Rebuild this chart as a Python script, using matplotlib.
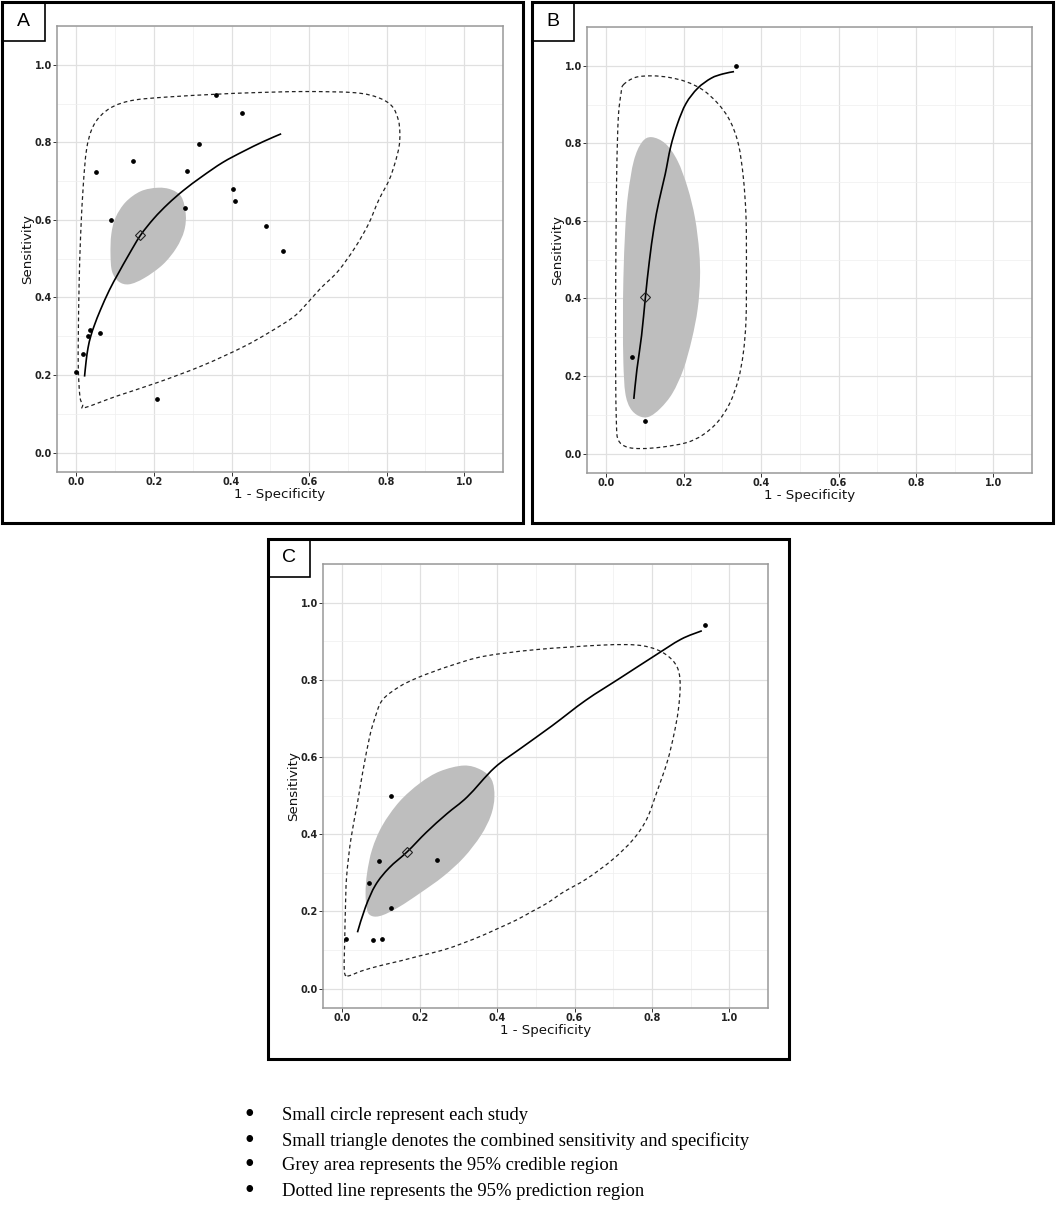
import matplotlib
matplotlib.use("Agg")
import numpy as np
import matplotlib.pyplot as plt
from matplotlib.patches import Rectangle, PathPatch
from matplotlib.path import Path
from matplotlib.ticker import MultipleLocator

# ---- panel A data ----
a_study_x = [0.000, 0.0175, 0.031, 0.035, 0.060, 0.051, 0.090, 0.146, 0.280, 0.285,
             0.316, 0.360, 0.428, 0.405, 0.409, 0.488, 0.533, 0.209]
a_study_y = [0.207, 0.255, 0.300, 0.315, 0.308, 0.723, 0.600, 0.752, 0.632, 0.725,
             0.796, 0.921, 0.876, 0.680, 0.649, 0.584, 0.520, 0.137]
a_summary = (0.165, 0.560)
a_curve_x = [0.021, 0.025, 0.030, 0.037, 0.047, 0.062, 0.085, 0.108, 0.135, 0.165,
             0.200, 0.236, 0.276, 0.324, 0.377, 0.429, 0.482, 0.528]
a_curve_y = [0.196, 0.235, 0.270, 0.300, 0.330, 0.368, 0.419, 0.462, 0.510, 0.560,
             0.604, 0.641, 0.676, 0.712, 0.748, 0.776, 0.802, 0.822]
a_cred_x = [0.210, 0.245, 0.271, 0.282, 0.278, 0.258, 0.223, 0.175, 0.136, 0.109,
            0.092, 0.088, 0.090, 0.101, 0.127, 0.166]
a_cred_y = [0.683, 0.678, 0.659, 0.615, 0.572, 0.528, 0.485, 0.450, 0.434, 0.441,
            0.467, 0.511, 0.563, 0.606, 0.646, 0.674]
a_pred_x = [0.022, 0.105, 0.210, 0.324, 0.429, 0.499, 0.560, 0.595, 0.630, 0.674,
            0.718, 0.753, 0.779, 0.806, 0.821, 0.832, 0.834, 0.830, 0.814, 0.779,
            0.718, 0.587, 0.455, 0.359, 0.236, 0.149, 0.096, 0.061, 0.039, 0.026,
            0.018, 0.011, 0.007, 0.005, 0.005, 0.009, 0.016]
a_pred_y = [0.116, 0.146, 0.181, 0.224, 0.272, 0.311, 0.350, 0.385, 0.424, 0.467,
            0.528, 0.589, 0.650, 0.702, 0.745, 0.789, 0.824, 0.858, 0.893, 0.915,
            0.928, 0.931, 0.928, 0.924, 0.917, 0.909, 0.893, 0.867, 0.832, 0.780,
            0.693, 0.563, 0.433, 0.302, 0.215, 0.146, 0.123]

# ---- panel B data ----
b_study_x = [0.334, 0.066, 0.101]
b_study_y = [1.000, 0.250, 0.083]
b_summary = (0.101, 0.404)
b_curve_x = [0.071, 0.079, 0.091, 0.101, 0.111, 0.123, 0.136, 0.152, 0.166, 0.184,
             0.206, 0.236, 0.271, 0.301, 0.330]
b_curve_y = [0.141, 0.217, 0.304, 0.404, 0.495, 0.582, 0.651, 0.720, 0.790, 0.851,
             0.903, 0.942, 0.968, 0.979, 0.985]
b_cred_x = [0.117, 0.153, 0.184, 0.210, 0.229, 0.240, 0.242, 0.236, 0.221, 0.199,
            0.171, 0.140, 0.110, 0.084, 0.062, 0.049, 0.044, 0.043, 0.044, 0.049,
            0.056, 0.071, 0.092]
b_cred_y = [0.816, 0.799, 0.755, 0.686, 0.608, 0.521, 0.451, 0.373, 0.295, 0.217,
            0.156, 0.117, 0.095, 0.097, 0.117, 0.156, 0.234, 0.339, 0.451, 0.582,
            0.668, 0.755, 0.803]
b_pred_x = [0.044, 0.075, 0.118, 0.162, 0.206, 0.249, 0.288, 0.319, 0.341, 0.354,
            0.361, 0.362, 0.361, 0.354, 0.341, 0.319, 0.288, 0.249, 0.206, 0.145,
            0.092, 0.053, 0.031, 0.026, 0.024, 0.024, 0.025, 0.027, 0.031, 0.038]
b_pred_y = [0.951, 0.970, 0.974, 0.970, 0.959, 0.938, 0.903, 0.859, 0.799, 0.712,
            0.608, 0.477, 0.347, 0.260, 0.191, 0.130, 0.082, 0.048, 0.028, 0.017,
            0.013, 0.017, 0.035, 0.078, 0.217, 0.391, 0.564, 0.738, 0.868, 0.929]

# ---- panel C data ----
c_study_x = [0.936, 0.127, 0.096, 0.245, 0.070, 0.126, 0.010, 0.080, 0.103]
c_study_y = [0.943, 0.500, 0.330, 0.334, 0.275, 0.209, 0.129, 0.125, 0.130]
c_summary = (0.168, 0.355)
c_curve_x = [0.039, 0.060, 0.086, 0.121, 0.168, 0.217, 0.270, 0.323, 0.393, 0.463,
             0.542, 0.629, 0.717, 0.805, 0.875, 0.929]
c_curve_y = [0.146, 0.212, 0.269, 0.313, 0.355, 0.405, 0.453, 0.497, 0.572, 0.624,
             0.681, 0.747, 0.804, 0.861, 0.905, 0.927]
c_cred_x = [0.314, 0.358, 0.386, 0.393, 0.384, 0.358, 0.314, 0.261, 0.200, 0.147,
            0.103, 0.077, 0.064, 0.060, 0.064, 0.077, 0.103, 0.147, 0.200, 0.252]
c_cred_y = [0.578, 0.567, 0.541, 0.497, 0.449, 0.397, 0.340, 0.291, 0.247, 0.212,
            0.190, 0.188, 0.203, 0.247, 0.300, 0.361, 0.422, 0.484, 0.532, 0.563]
c_pred_x = [0.013, 0.050, 0.095, 0.150, 0.200, 0.260, 0.312, 0.360, 0.400, 0.450,
            0.490, 0.530, 0.571, 0.632, 0.699, 0.752, 0.787, 0.813, 0.840, 0.857,
            0.868, 0.873, 0.868, 0.848, 0.813, 0.761, 0.673, 0.498, 0.366, 0.287,
            0.235, 0.191, 0.147, 0.103, 0.082, 0.070, 0.053, 0.038, 0.022, 0.011,
            0.008, 0.006, 0.005]
c_pred_y = [0.033, 0.046, 0.059, 0.072, 0.085, 0.100, 0.118, 0.137, 0.155, 0.178,
            0.200, 0.222, 0.250, 0.285, 0.335, 0.387, 0.440, 0.510, 0.589, 0.659,
            0.720, 0.782, 0.826, 0.856, 0.878, 0.890, 0.890, 0.878, 0.861, 0.839,
            0.821, 0.804, 0.782, 0.747, 0.694, 0.650, 0.563, 0.475, 0.387, 0.290,
            0.210, 0.120, 0.050]

tick_values = [0.0, 0.2, 0.4, 0.6, 0.8, 1.0]
tick_labels = ["0.0", "0.2", "0.4", "0.6", "0.8", "1.0"]
notes = [
    "Small circle represent each study",
    "Small triangle denotes the combined sensitivity and specificity",
    "Grey area represents the 95% credible region",
    "Dotted line represents the 95% prediction region",
]

W, H = 1056, 1205
fig = plt.figure(figsize=(W / 100, H / 100), dpi=100)


def frac(x0, y0, x1, y1):
    # pixel box (top-left origin) -> figure fraction rect
    return [x0 / W, 1 - y1 / H, (x1 - x0) / W, (y1 - y0) / H]


def smooth_path(xs, ys, closed=False):
    # catmull-rom through the read points, drawn as cubic bezier segments
    p = np.column_stack([xs, ys])
    n = len(p)
    if closed:
        idx = lambda i: p[i % n]
        segs = range(n)
    else:
        idx = lambda i: p[min(max(i, 0), n - 1)]
        segs = range(n - 1)
    verts = [p[0]]
    codes = [Path.MOVETO]
    for i in segs:
        p0, p1, p2, p3 = idx(i - 1), idx(i), idx(i + 1), idx(i + 2)
        verts += [p1 + (p2 - p0) / 6, p2 - (p3 - p1) / 6, p2]
        codes += [Path.CURVE4] * 3
    if closed:
        verts.append(p[0])
        codes.append(Path.CLOSEPOLY)
    return Path(verts, codes)


def panel(box, label_box, ax_box, letter, study_x, study_y, summary,
          curve_x, curve_y, cred_x, cred_y, pred_x, pred_y):
    x0, y0, x1, y1 = box
    fig.patches.append(Rectangle((x0 / W, 1 - y1 / H), (x1 - x0) / W, (y1 - y0) / H,
                                 transform=fig.transFigure, fill=False,
                                 edgecolor="black", linewidth=2.2, zorder=5))
    lx0, ly0, lx1, ly1 = label_box
    fig.patches.append(Rectangle((lx0 / W, 1 - ly1 / H), (lx1 - lx0) / W, (ly1 - ly0) / H,
                                 transform=fig.transFigure, fill=False,
                                 edgecolor="black", linewidth=1.2, zorder=5))
    fig.text((lx0 + lx1) / 2 / W, 1 - (ly0 + ly1) / 2 / H, letter,
             ha="center", va="center", fontsize=14, family="Liberation Sans")

    ax = fig.add_axes(frac(*ax_box))
    ax.set_xlim(-0.05, 1.10)
    ax.set_ylim(-0.05, 1.10)
    ax.xaxis.set_minor_locator(MultipleLocator(0.1))
    ax.yaxis.set_minor_locator(MultipleLocator(0.1))
    ax.set_xticks(tick_values, tick_labels)
    ax.set_yticks(tick_values, tick_labels)
    ax.grid(which="major", color="#e0e0e0", linewidth=0.9)
    ax.grid(which="minor", color="#efefef", linewidth=0.5)
    ax.set_axisbelow(True)
    ax.tick_params(which="minor", length=0)
    ax.tick_params(which="major", length=2.75, width=0.7, color="#333333",
                   labelsize=7, labelcolor="#222222", pad=1)
    for lab in ax.get_xticklabels() + ax.get_yticklabels():
        lab.set_fontweight("bold")
    for s in ax.spines.values():
        s.set_color("#999999")
        s.set_linewidth(1.1)
    ax.set_xlabel("1 - Specificity", fontsize=9.6, color="#111111")
    ax.set_ylabel("Sensitivity", fontsize=9.6, color="#111111")
    ax.xaxis.set_label_coords(0.5, -0.05)
    ax.xaxis.label.set_va("center")
    ax.yaxis.set_label_coords(-0.066, 0.5)
    ax.yaxis.label.set_va("center")

    ax.add_patch(PathPatch(smooth_path(cred_x, cred_y, closed=True),
                           facecolor="#bebebe", edgecolor="none", zorder=2))
    ax.add_patch(PathPatch(smooth_path(pred_x, pred_y, closed=True), fill=False,
                           edgecolor="#222222", linewidth=0.9,
                           linestyle=(0, (3, 2.4)), zorder=3))
    ax.add_patch(PathPatch(smooth_path(curve_x, curve_y), fill=False,
                           edgecolor="black", linewidth=1.2, zorder=4))
    ax.plot(study_x, study_y, "o", color="black", markersize=2.4, zorder=5)
    ax.plot([summary[0]], [summary[1]], "D", markersize=5.5, markerfacecolor="none",
            markeredgecolor="#222222", markeredgewidth=0.8, zorder=6)
    return ax


panel((2, 2, 523, 523), (2, 2, 45, 41), (57, 26, 503, 472), "A",
      a_study_x, a_study_y, a_summary, a_curve_x, a_curve_y,
      a_cred_x, a_cred_y, a_pred_x, a_pred_y)
panel((532, 2, 1053, 523), (532, 2, 574, 41), (587, 27, 1032, 473), "B",
      b_study_x, b_study_y, b_summary, b_curve_x, b_curve_y,
      b_cred_x, b_cred_y, b_pred_x, b_pred_y)
panel((268, 539, 789, 1059), (268, 539, 310, 577), (323, 564, 768, 1008), "C",
      c_study_x, c_study_y, c_summary, c_curve_x, c_curve_y,
      c_cred_x, c_cred_y, c_pred_x, c_pred_y)

# bullet notes under the panels
for i, note in enumerate(notes):
    yy = 1 - (1116 + 25 * i) / H
    fig.text(249 / W, yy, "\u2022", ha="center", va="center",
             fontsize=20, family="Liberation Serif")
    fig.text(282 / W, yy, note, ha="left", va="center",
             fontsize=13.4, family="Liberation Serif")

fig.savefig("out.png", dpi=100)
